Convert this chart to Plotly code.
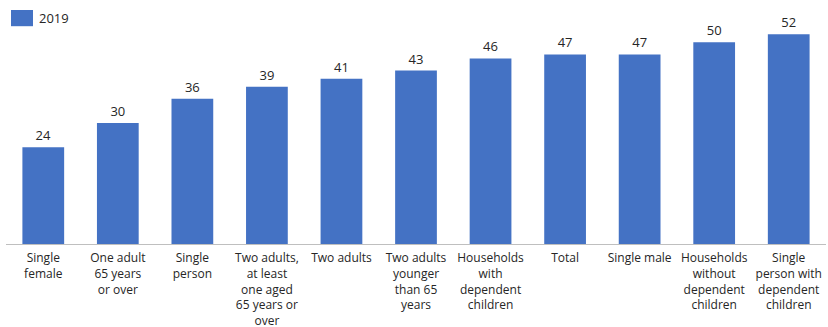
import plotly.graph_objects as go

categories = [
    "Single<br>female",
    "One adult<br>65 years<br>or over",
    "Single<br>person",
    "Two adults,<br>at least<br>one aged<br>65 years or<br>over",
    "Two adults",
    "Two adults<br>younger<br>than 65<br>years",
    "Households<br>with<br>dependent<br>children",
    "Total",
    "Single male",
    "Households<br>without<br>dependent<br>children",
    "Single<br>person with<br>dependent<br>children",
]
values_2019 = [24, 30, 36, 39, 41, 43, 46, 47, 47, 50, 52]
series_name = "2019"

BLUE = "#4472C4"
TEXT = "#262626"
FONT = "Open Sans, Liberation Sans, sans-serif"

fig = go.Figure(
    go.Bar(
        x=list(range(len(categories))),
        y=values_2019,
        name=series_name,
        marker=dict(color=BLUE, line=dict(width=0)),
        text=[str(v) for v in values_2019],
        textposition="outside",
        textfont=dict(family=FONT, size=13, color=TEXT),
        cliponaxis=False,
        showlegend=False,
    )
)

# legend key: swatch plus series label
fig.add_shape(
    type="rect", xref="paper", yref="paper",
    x0=0.0061, x1=0.0329, y0=0.90, y1=0.967,
    fillcolor=BLUE, line=dict(width=0), layer="above",
)
fig.add_annotation(
    text=series_name, xref="paper", yref="paper",
    x=0.0378, y=0.934, xanchor="left", yanchor="middle",
    showarrow=False, font=dict(family=FONT, size=13, color=TEXT),
)

fig.update_layout(
    width=828,
    height=327,
    margin=dict(l=6, r=2, t=2, b=83, autoexpand=False),
    paper_bgcolor="white",
    plot_bgcolor="white",
    bargap=0.44,
    showlegend=False,
    font=dict(family=FONT, size=13, color=TEXT),
    xaxis=dict(
        tickmode="array",
        tickvals=list(range(len(categories))),
        ticktext=categories,
        range=[-0.5, len(categories) - 0.5],
        showline=True,
        linecolor="#BFBFBF",
        linewidth=1,
        ticks="",
        showgrid=False,
        automargin=False,
        tickfont=dict(family=FONT, size=12, color=TEXT),
        tickangle=0,
        ticklabelstandoff=3,
    ),
    yaxis=dict(
        range=[0, 60],
        visible=False,
        showgrid=False,
        zeroline=False,
        automargin=False,
    ),
)

fig.write_html("out.html")
